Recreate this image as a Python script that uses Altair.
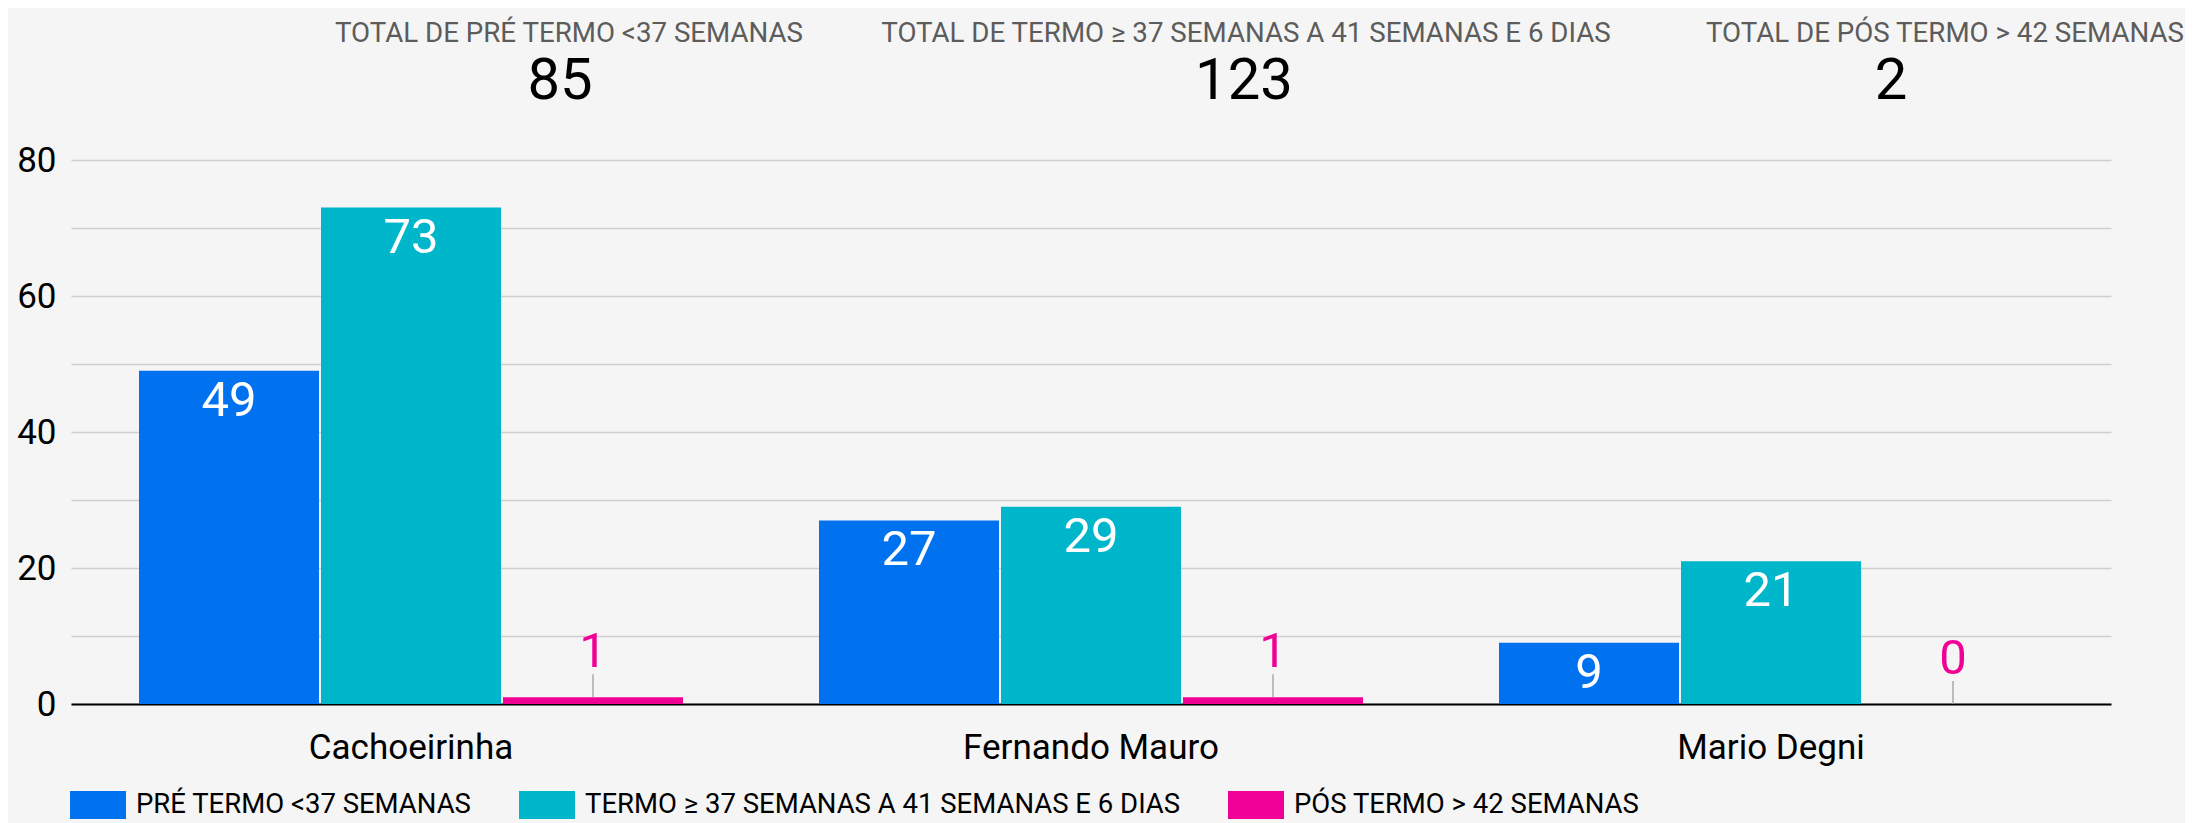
import altair as alt
import pandas as pd

categories = ["Cachoeirinha", "Fernando Mauro", "Mario Degni"]
series = [
    "PRÉ TERMO <37 SEMANAS",
    "TERMO ≥ 37 SEMANAS A 41 SEMANAS E 6 DIAS",
    "PÓS TERMO > 42 SEMANAS",
]
pre_termo = [49, 27, 9]
termo = [73, 29, 21]
pos_termo = [1, 1, 0]
header_titles = [
    "TOTAL DE PRÉ TERMO <37 SEMANAS",
    "TOTAL DE TERMO ≥ 37 SEMANAS A 41 SEMANAS E 6 DIAS",
    "TOTAL DE PÓS TERMO > 42 SEMANAS",
]
header_totals = [85, 123, 2]
colors = ["#0072F0", "#00B6CB", "#F10096"]

rows = []
for s, vals in zip(series, [pre_termo, termo, pos_termo]):
    for c, v in zip(categories, vals):
        rows.append({"unidade": c, "serie": s, "valor": v})
df = pd.DataFrame(rows)

FONT = "Roboto"

x_enc = alt.X(
    "unidade:N",
    sort=categories,
    title=None,
    scale=alt.Scale(paddingInner=0.2, paddingOuter=0.1),
    axis=alt.Axis(
        labelAngle=0, labelFont=FONT, labelFontSize=35, labelColor="#000000",
        ticks=False, tickSize=0, domainColor="#000000", domainWidth=2,
        labelPadding=54, labelBaseline="alphabetic", grid=False, labelLimit=1000,
    ),
)
xo_enc = alt.XOffset("serie:N", sort=series, scale=alt.Scale(paddingInner=0.011, paddingOuter=0))
y_enc = alt.Y(
    "valor:Q",
    title=None,
    scale=alt.Scale(domain=[0, 80], nice=False),
    axis=alt.Axis(
        values=list(range(0, 81, 10)),
        labelExpr="datum.value % 20 == 0 ? datum.label : ''",
        labelFont=FONT, labelFontSize=35, labelColor="#000000",
        ticks=False, tickSize=0, domain=False, labelPadding=15,
        gridColor="#cfcfcf", gridWidth=1.4,
    ),
)
color_enc = alt.Color(
    "serie:N",
    sort=series,
    scale=alt.Scale(domain=series, range=colors),
    legend=alt.Legend(
        orient="none", legendX=-1, legendY=617, direction="horizontal", title=None,
        symbolType="M-1,-0.5H1V0.5H-1Z", symbolSize=3136, symbolStrokeWidth=0,
        symbolOpacity=1, labelFont=FONT, labelFontSize=27.5, labelColor="#000000",
        labelOffset=10, columnPadding=47, labelLimit=2000, padding=0,
    ),
)

base = alt.Chart(df)

bars = base.mark_bar().encode(x=x_enc, xOffset=xo_enc, y=y_enc, color=color_enc)

inside = base.transform_filter("datum.valor >= 5").mark_text(
    baseline="alphabetic", dy=45, color="#ffffff", font=FONT, fontSize=49
).encode(x=x_enc, xOffset=xo_enc, y=y_enc, text="valor:Q")

outside = base.transform_filter("datum.valor < 5").mark_text(
    baseline="alphabetic", dy=-30, font=FONT, fontSize=49
).encode(
    x=x_enc, xOffset=xo_enc, y=y_enc, text="valor:Q",
    color=alt.Color("serie:N", scale=alt.Scale(domain=series, range=colors), legend=None),
)

leader = base.transform_filter("datum.valor < 5").mark_rule(
    color="#9e9e9e", strokeWidth=1.3, y2Offset=-23
).encode(x=x_enc, xOffset=xo_enc, y=y_enc, y2=alt.Y2("valor:Q"))

title_x = [498, 1175, 2113]
title_align = ["center", "center", "right"]
total_x = [489, 1173, 1820]
headers = []
for i in range(3):
    headers.append(
        alt.Chart(alt.Data(values=[{"t": header_titles[i]}])).mark_text(
            x=title_x[i], y=-118.5, align=title_align[i], baseline="alphabetic",
            font=FONT, fontSize=27.7, color="#5c5c5c",
        ).encode(text="t:N")
    )
    headers.append(
        alt.Chart(alt.Data(values=[{"t": str(header_totals[i])}])).mark_text(
            x=total_x[i], y=-61, align="center", baseline="alphabetic",
            font=FONT, fontSize=58, color="#000000",
        ).encode(text="t:N")
    )

chart = alt.layer(bars, leader, inside, outside, *headers).properties(
    width=2040,
    height=544,
    padding={"left": 63, "top": 152, "right": 74, "bottom": 119},
    autosize=alt.AutoSizeParams(type="none"),
    background="#f5f5f5",
).configure_view(stroke=None)

chart.save("out.html", embed_options={"renderer": "svg", "actions": False})
